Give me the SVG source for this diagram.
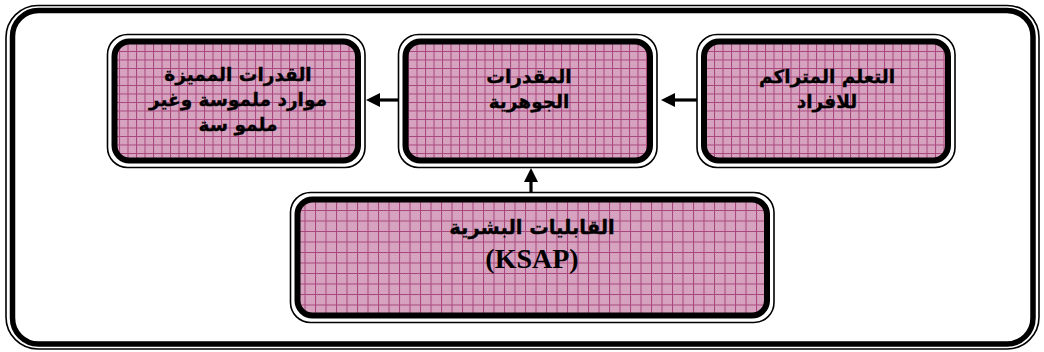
<svg xmlns="http://www.w3.org/2000/svg" width="1044" height="352" viewBox="0 0 1044 352">
  <style>
    .thin { fill: none; stroke: #000; stroke-width: 1.6; }
    .thick { stroke: #000; stroke-width: 6; }
    .fillA { fill: url(#gridA); }
    .fillB { fill: url(#gridB); }
    .ar { font-family: "DejaVu Sans", "Noto Sans", sans-serif; font-weight: bold; font-size: 18.5px; fill: #000; stroke: #000; stroke-width: 0.35; text-anchor: middle; direction: rtl; }
    .big { font-size: 19.5px; }
    .lat { font-family: "Liberation Serif", serif; font-weight: bold; font-size: 28px; fill: #000; text-anchor: middle; }
    .conn line { stroke: #000; stroke-width: 3.2; }
    .conn polygon { fill: #000; }
  </style>
  <defs>
    <!-- fine dither used under the grid -->
    <pattern id="dither" width="2" height="2" patternUnits="userSpaceOnUse">
      <rect width="2" height="2" fill="#c788ab"/>
      <rect width="1" height="1" fill="#e6bcd3"/>
      <rect x="1" y="1" width="1" height="1" fill="#e6bcd3"/>
    </pattern>
    <!-- pink grid for the upper boxes -->
    <pattern id="gridA" width="8.5" height="8.5" patternUnits="userSpaceOnUse">
      <rect width="8.5" height="8.5" fill="url(#dither)"/>
      <path d="M0 0.5H8.5M0.5 0V8.5" stroke="#a8467c" stroke-width="1"/>
    </pattern>
    <!-- pink grid for the lower box -->
    <pattern id="gridB" width="10.5" height="10.5" patternUnits="userSpaceOnUse">
      <rect width="10.5" height="10.5" fill="url(#dither)"/>
      <path d="M0 0.5H10.5M0.5 0V10.5" stroke="#a8467c" stroke-width="1"/>
    </pattern>
  </defs>

  <rect width="1044" height="352" fill="#fff"/>

  <!-- outer frame: thin line outside, thick line inside -->
  <g id="frame">
    <rect class="thin" x="6" y="5.5" width="1033" height="343.5" rx="32"/>
    <rect x="12.5" y="10.5" width="1020.5" height="333.5" rx="26" fill="none" stroke="#000" stroke-width="5.5"/>
  </g>

  <g class="conn" id="connectors">
    <line x1="398" y1="100" x2="379" y2="100"/>
    <polygon points="366,100 380,93 380,107"/>
    <line x1="697" y1="100" x2="674" y2="100"/>
    <polygon points="661,100 675,93 675,107"/>
    <line x1="531" y1="193" x2="531" y2="181"/>
    <polygon points="531,168 524,182 538,182"/>
  </g>

  <g id="node-capabilities">
    <rect class="thin" x="107.5" y="34.5" width="257.5" height="133" rx="20"/>
    <rect class="thick fillA" x="114.5" y="41.5" width="243.5" height="119" rx="15"/>
    <text class="ar" x="238" y="81">القدرات المميزة</text>
    <text class="ar" x="238" y="106">موارد ملموسة وغير</text>
    <text class="ar" x="238" y="131">ملمو سة</text>
  </g>

  <g id="node-core">
    <rect class="thin" x="398.5" y="34.5" width="258.5" height="133" rx="20"/>
    <rect class="thick fillA" x="405.5" y="41.5" width="244.5" height="119" rx="15"/>
    <text class="ar" x="529" y="83">المقدرات</text>
    <text class="ar" x="529" y="108">الجوهرية</text>
  </g>

  <g id="node-learning">
    <rect class="thin" x="697" y="34.5" width="258" height="133" rx="20"/>
    <rect class="thick fillA" x="704" y="41.5" width="244" height="119" rx="15"/>
    <text class="ar" x="827" y="83">التعلم المتراكم</text>
    <text class="ar" x="827" y="108">للافراد</text>
  </g>

  <g id="node-human">
    <rect class="thin" x="290.5" y="192.5" width="483.5" height="130" rx="20"/>
    <rect class="thick fillB" x="297.5" y="199.5" width="469.5" height="116" rx="15"/>
    <text class="ar big" x="532" y="234">القابليات البشرية</text>
    <text class="lat" x="532" y="268">(KSAP)</text>
  </g>
</svg>
